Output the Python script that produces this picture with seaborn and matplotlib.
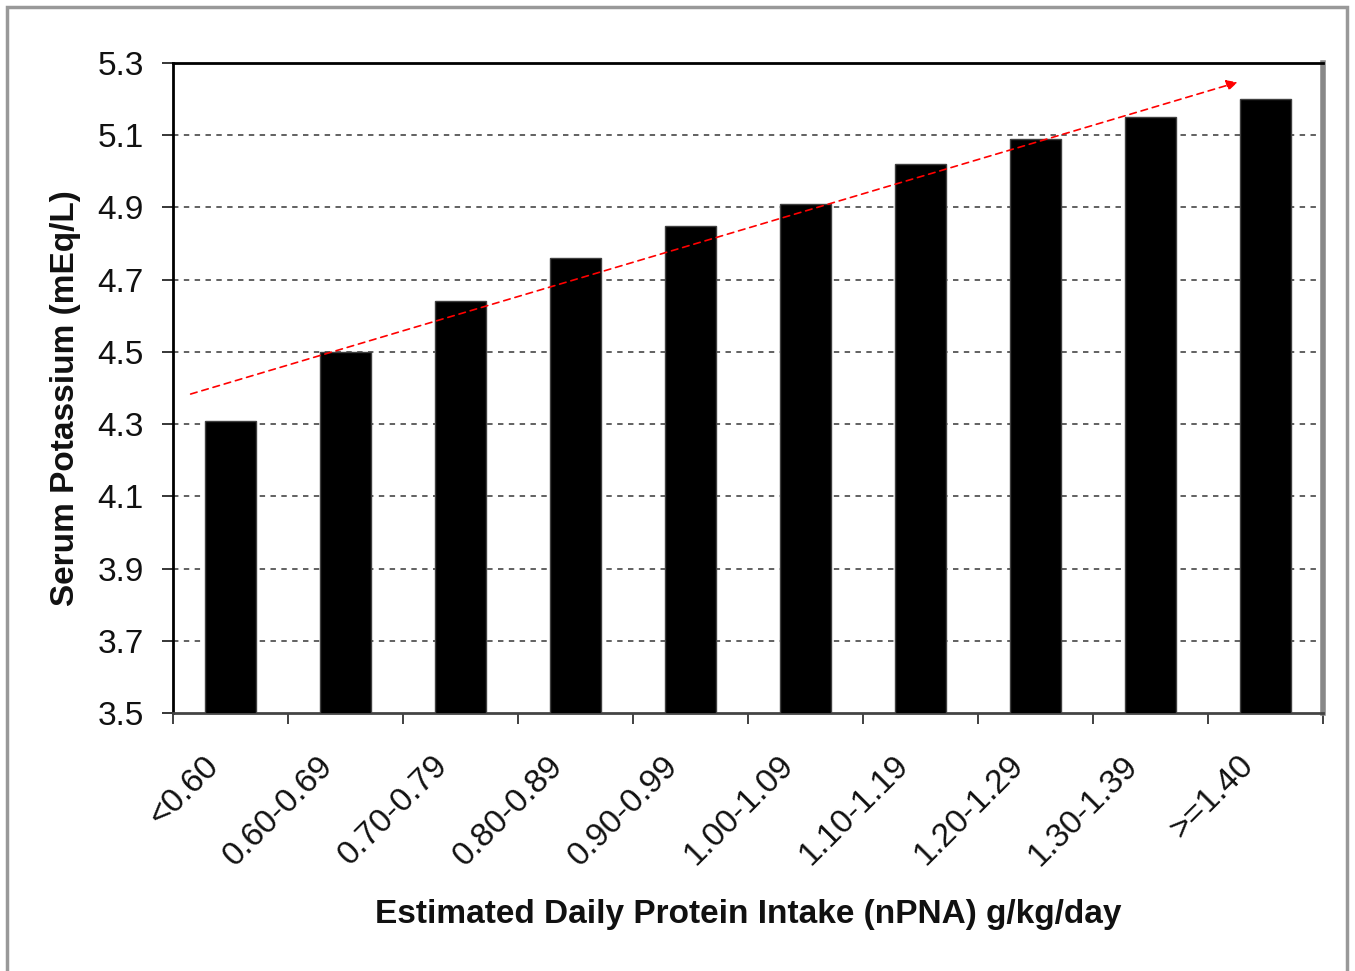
import numpy as np
import pandas as pd
import matplotlib
matplotlib.use('Agg')
import matplotlib.pyplot as plt
import matplotlib.transforms as mtransforms
import seaborn as sns
from matplotlib.patches import Rectangle

# data
categories = ['<0.60', '0.60-0.69', '0.70-0.79', '0.80-0.89', '0.90-0.99',
              '1.00-1.09', '1.10-1.19', '1.20-1.29', '1.30-1.39', '>=1.40']
potassium = [4.31, 4.50, 4.64, 4.76, 4.85, 4.91, 5.02, 5.09, 5.15, 5.20]
yticks = [3.5, 3.7, 3.9, 4.1, 4.3, 4.5, 4.7, 4.9, 5.1, 5.3]
trend_span = [-0.37, 8.78]   # x extent of the trend arrow (category units)

df = pd.DataFrame({'nPNA': categories, 'K': potassium})

sns.set_style('white')
plt.rcParams['font.family'] = ['Liberation Sans', 'DejaVu Sans']

fig = plt.figure(figsize=(13.55, 9.71), dpi=100)
ax = fig.add_axes([0.1277, 0.2657, 0.8487, 0.6694])

sns.barplot(data=df, x='nPNA', y='K', color='black', width=0.44,
            edgecolor='#404040', linewidth=1, ax=ax, zorder=3)

ax.set_ylim(3.5, 5.3)
ax.set_xlim(-0.5, len(categories) - 0.5)
ax.set_yticks(yticks)
ax.set_yticklabels([f'{t:.1f}' for t in yticks], fontsize=24, color='#111111')

# dashed grid lines (not at the top spine)
for t in yticks[1:-1]:
    ax.axhline(t, color='#555555', linestyle=(0, (3, 3)), linewidth=1.3, zorder=1)

# category labels drawn as rotated text, tick marks at the boundaries
ax.set_xticks(range(len(categories)))
ax.set_xticklabels([])
lab_tr = mtransforms.blended_transform_factory(ax.transData, ax.transAxes) + \
    mtransforms.ScaledTranslation(-28 / 100, -37 / 100, fig.dpi_scale_trans)
for i, c in enumerate(categories):
    ax.text(i, 0, c, transform=lab_tr, rotation=45, ha='right', va='top',
            rotation_mode='anchor', fontsize=24, color='#111111')
ax.set_xticks(np.arange(-0.5, len(categories), 1.0), minor=True)
ax.tick_params(axis='x', which='major', length=0)
ax.tick_params(axis='x', which='minor', length=8, width=1.3, color='#333333', direction='out', bottom=True)
ax.tick_params(axis='y', length=8, width=1.3, direction='out', left=True, pad=13)

ax.set_xlabel('Estimated Daily Protein Intake (nPNA) g/kg/day', fontsize=24,
              fontweight='bold', color='#111111')
ax.xaxis.set_label_coords(0.5, -0.286)
ax.set_ylabel('Serum Potassium (mEq/L)', fontsize=24, fontweight='bold',
              labelpad=12, color='#111111')
ax.yaxis.label.set_y(0.485)

for side in ['left', 'top']:
    ax.spines[side].set_color('black')
    ax.spines[side].set_linewidth(2)
ax.spines['bottom'].set_color('#444444')
ax.spines['bottom'].set_linewidth(2)
ax.spines['right'].set_color('#888888')
ax.spines['right'].set_linewidth(4)

# linear trend arrow
xs = np.arange(len(potassium))
slope, intercept = np.polyfit(xs, potassium, 1)
x0, x1 = trend_span
ax.annotate('', xy=(x1, slope * x1 + intercept), xytext=(x0, slope * x0 + intercept),
            arrowprops=dict(arrowstyle='-|>', color='red', linestyle=(0, (4, 3)),
                            linewidth=1.2, mutation_scale=16), zorder=5)

# outer frame
fig.patches.append(Rectangle((7 / 1355, -0.01), 1340 / 1355, 1 - 7 / 971 + 0.01,
                             transform=fig.transFigure, fill=False,
                             edgecolor='#999999', linewidth=2.5))

fig.savefig('out.png', dpi=100)
